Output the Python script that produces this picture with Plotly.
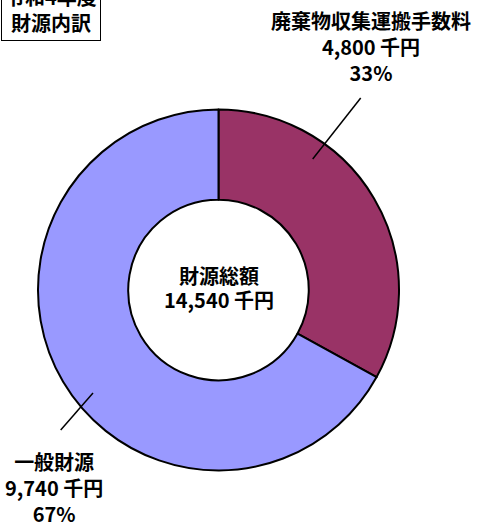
import plotly.graph_objects as go

W, H = 479, 527

labels = ["廃棄物収集運搬手数料", "一般財源"]
values = [4800, 9740]
colors = ["#993366", "#9999FF"]
total_label = "財源総額"
title_lines = ["令和4年度", "財源内訳"]

FONT = "Noto Sans CJK JP"

def px(x):
    return x / W

def py(y):
    return 1 - y / H

cx, cy, r = 218.5, 290, 180.5

fig = go.Figure(go.Pie(
    labels=labels,
    values=values,
    hole=0.5,
    sort=False,
    direction="clockwise",
    rotation=0,
    textinfo="none",
    hoverinfo="label+value+percent",
    marker=dict(colors=colors, line=dict(color="black", width=2)),
    domain=dict(x=[px(cx - r), px(cx + r)], y=[py(cy + r), py(cy - r)]),
    showlegend=False,
))

total = sum(values)
pcts = [round(v / total * 100) for v in values]

def fmt(v):
    return f"{v:,} 千円"

font = dict(family=FONT, size=20, color="black")

ann = [
    dict(x=px(371), y=py(46), text=f"<b>{labels[0]}<br>{fmt(values[0])}<br>{pcts[0]}%</b>"),
    dict(x=px(54), y=py(487), text=f"<b>{labels[1]}<br>{fmt(values[1])}<br>{pcts[1]}%</b>"),
    dict(x=px(cx), y=py(275), text=f"<b>{total_label}</b>"),
    dict(x=px(cx), y=py(299), text=f"<b>{fmt(total)}</b>"),
]
annotations = []
for a in ann:
    annotations.append(dict(xref="paper", yref="paper", showarrow=False,
                            xanchor="center", yanchor="middle", align="center",
                            font=font, **a))
annotations.append(dict(xref="paper", yref="paper", showarrow=False,
                        x=px(101), y=py(41), xanchor="right", yanchor="bottom",
                        text="<b>" + "<br>".join(title_lines) + "</b>",
                        align="center", font=font,
                        bordercolor="black", borderwidth=1, borderpad=3,
                        bgcolor="white"))

shapes = [
    dict(type="line", xref="paper", yref="paper",
         x0=px(360.7), y0=py(98), x1=px(312.7), y1=py(159),
         line=dict(color="black", width=1.5)),
    dict(type="line", xref="paper", yref="paper",
         x0=px(93), y0=py(393), x1=px(60.7), y1=py(430),
         line=dict(color="black", width=1.5)),
]

fig.update_layout(
    width=W, height=H,
    margin=dict(l=0, r=0, t=0, b=0),
    paper_bgcolor="white",
    plot_bgcolor="white",
    annotations=annotations,
    shapes=shapes,
)

fig.write_html("out.html",
               config={"displayModeBar": False},
               post_script="document.body.style.margin='0';document.body.style.padding='0';")
